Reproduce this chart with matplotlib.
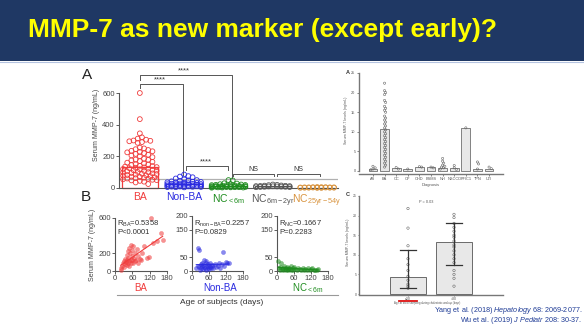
import numpy as np
import matplotlib
matplotlib.use('Agg')
import matplotlib.pyplot as plt
from matplotlib.patches import Rectangle
from matplotlib.lines import Line2D

plt.rcParams['font.family'] = ['Liberation Sans', 'DejaVu Sans']
plt.rcParams['mathtext.fontset'] = 'custom'
plt.rcParams['mathtext.rm'] = 'Liberation Sans'
plt.rcParams['mathtext.it'] = 'Liberation Sans:italic'

# ---------------- data ----------------
groups_a = ["BA", "Non-BA", "NC$_{\\mathrm{<6m}}$", "NC$_{\\mathrm{6m-2yr}}$", "NC$_{\\mathrm{25yr-54y}}$"]
colors_a = ["#f03c3c", "#2b2be0", "#1e8c1e", "#555555", "#d9943f"]
ba_vals = [600, 435, 345, 320, 312, 305, 300, 298, 295, 290, 285, 255, 250, 245, 240, 235,
           232, 228, 225, 220, 215, 210, 205, 200, 195, 185, 180, 178, 175, 170, 165, 160,
           155, 150, 148, 145, 140, 138, 135, 132, 130, 128, 125, 122, 120, 118, 115, 112,
           110, 108, 105, 102, 100, 98, 95, 92, 90, 88, 85, 82, 80, 78, 75, 72, 70, 68, 65,
           62, 60, 58, 55, 52, 50, 48, 45, 40, 35, 25]
nonba_vals = [85, 75, 72, 68, 60, 55, 50, 48, 45, 42, 40, 38, 36, 35, 33, 32, 30, 28, 27, 26,
              25, 24, 23, 22, 21, 20, 19, 18, 17, 16, 15, 14, 13, 12, 11, 10, 9, 8, 7, 6, 5, 4]
nc6m_vals = [50, 48, 30, 28, 25, 24, 22, 20, 19, 18, 17, 16, 15, 14, 13, 12, 12, 11, 10, 10,
             9, 9, 8, 8, 7, 7, 6, 6, 5, 5, 4, 4, 3, 3, 2]
nc2y_vals = [22, 20, 18, 16, 15, 14, 13, 12, 12, 11, 10, 10, 9, 8, 8, 7, 6, 5]
nc25y_vals = [6, 5, 5, 5, 4, 4, 4, 4, 3, 3, 3, 3, 3, 2, 2, 2, 2, 2, 1, 1]
vals_a = [ba_vals, nonba_vals, nc6m_vals, nc2y_vals, nc25y_vals]
cutoff = 57

ba_age = [20, 22, 25, 28, 30, 32, 35, 35, 38, 40, 40, 42, 44, 45, 46, 48, 50, 50, 52, 54, 55,
          56, 58, 60, 60, 62, 64, 65, 68, 70, 72, 75, 78, 80, 85, 90, 95, 100, 110, 118, 125,
          130, 145, 160, 165]
ba_mmp = [10, 30, 60, 90, 50, 110, 80, 140, 100, 70, 180, 120, 95, 230, 150, 60, 110, 260, 200,
          130, 85, 300, 170, 120, 240, 90, 280, 150, 110, 200, 130, 250, 90, 170, 140, 120, 200,
          280, 150, 160, 600, 320, 340, 430, 350]
nb_age = [15, 20, 22, 24, 25, 28, 30, 32, 35, 36, 38, 40, 42, 44, 45, 48, 50, 50, 52, 55, 56,
          58, 60, 62, 65, 68, 70, 72, 75, 80, 85, 90, 95, 100, 105, 110, 112, 120, 125, 130]
nb_mmp = [10, 20, 85, 75, 15, 5, 25, 12, 30, 18, 8, 22, 40, 15, 10, 28, 35, 5, 18, 12, 25, 20,
          8, 15, 30, 12, 22, 18, 10, 25, 15, 20, 30, 12, 25, 70, 20, 32, 30, 28]
nc_age = [5, 8, 10, 12, 15, 18, 20, 22, 25, 28, 30, 32, 35, 38, 40, 42, 45, 48, 50, 55, 58, 60,
          65, 70, 75, 80, 85, 90, 95, 100, 105, 110, 115, 120, 125, 130, 135, 140, 145]
nc_mmp = [35, 10, 5, 15, 28, 8, 3, 12, 20, 6, 10, 2, 15, 8, 4, 12, 6, 18, 3, 10, 5, 14, 8, 4,
          12, 6, 3, 10, 5, 8, 4, 12, 3, 6, 10, 2, 5, 3, 7]
stats_b = [("R$_{\\mathrm{BA}}$=0.5358", "P<0.0001"),
           ("R$_{\\mathrm{non-BA}}$=0.2257", "P=0.0829"),
           ("R$_{\\mathrm{NC}}$=0.1667", "P=0.2283")]

diag_cats = ["AS", "BA", "CC", "CP", "CHD", "BSMS", "NH", "NSCCD", "PFIC1", "TPN", "UTI"]
diag_bar = [0.5, 10.6, 0.7, 0.4, 1.1, 0.9, 0.7, 0.7, 11.0, 0.5, 0.6]
diag_pts = [[1.2, 0.8, 0.5, 0.3],
            [22.4, 20.5, 20, 19.5, 18, 17.5, 16.5, 16, 15.5, 15, 14, 13.5, 13, 12.5, 12, 11.5,
             11, 10.5, 10, 9.5, 9, 8.5, 8, 7.5, 7, 6.5, 6, 5.5, 5, 4.5, 4, 3.5, 3, 2.5, 2, 1.5, 1],
            [0.9, 0.5], [0.5], [1.1, 1.0], [1.0, 0.8],
            [3.2, 2.5, 2.0, 1.5, 1.2, 1.0, 0.8, 0.5], [1.4, 0.8, 0.4], [11.0],
            [2.3, 1.8, 0.5], [1.0, 0.6]]

age_cats = ["\u226430", ">30"]
age_bar = [4.3, 13.3]
age_err_lo = [1.5, 7.5]
age_err_hi = [11.3, 18.0]
age_pts = [[21.8, 16.8, 12.3, 9, 7.5, 6, 4.5, 3.5, 2.5, 2, 1.5],
           [20.3, 19.5, 18, 17, 16, 15, 14.5, 13.5, 12.5, 12, 11, 10, 9, 8, 6, 5, 4, 2]]

# ---------------- figure ----------------
W, H = 584, 326
fig = plt.figure(figsize=(W / 100, H / 100), dpi=100)


def axpx(x0, y0, x1, y1):
    return fig.add_axes([x0 / W, 1 - y1 / H, (x1 - x0) / W, (y1 - y0) / H])


def fx(x):
    return x / W


def fy(y):
    return 1 - y / H


def swarm(vals, xscale, yscale, d, maxw):
    vals = np.asarray(vals, dtype=float)
    order = np.argsort(-vals, kind='stable')
    placed = []
    offs = np.zeros(len(vals))
    cands = [0.0]
    k = 1
    while k * d / 2 <= maxw:
        cands += [k * d / 2, -k * d / 2]
        k += 1
    for i in order:
        y = vals[i] * yscale
        best, bestov = 0.0, None
        for c in cands:
            ov = sum(max(0.0, d - np.hypot(c - px, y - py)) for px, py in placed)
            if ov == 0:
                best, bestov = c, 0
                break
            if bestov is None or ov < bestov:
                best, bestov = c, ov
        placed.append((best, y))
        offs[i] = best / xscale
    return offs


# header band
fig.patches.append(Rectangle((0, fy(61)), 1, 61 / H, transform=fig.transFigure,
                             facecolor='#1f3864', edgecolor='none', zorder=0))
fig.add_artist(Line2D([0, 1], [fy(62), fy(62)], color='#b4c3e0', lw=0.8))
fig.text(fx(262), fy(37), 'MMP-7 as new marker (except early)?', fontsize=19,
         weight='bold', color='#ffff00', ha='center', va='baseline')

# ---------------- Panel A ----------------
axA = axpx(119, 60, 338, 190)
ypp = 95 / 600.0
xpp = 44.3
axA.set_xlim(-0.47, 4.47)
axA.set_ylim(-2 / ypp, 128 / ypp)
for i, (v, c) in enumerate(zip(vals_a, colors_a)):
    offs = swarm(v, xpp, ypp, 4.2, 17)
    axA.scatter(i + offs, v, s=12, facecolors='none', edgecolors=c, linewidths=0.6, zorder=3,
                clip_on=False)
    axA.bar(i, np.median(v), width=0.82, facecolor='none', edgecolor=c, lw=0.9, zorder=2)
axA.axhline(cutoff, color='#b0b0b0', lw=0.9, zorder=1)
for s in ['top', 'right']:
    axA.spines[s].set_visible(False)
axA.spines['left'].set_bounds(0, 600)
axA.spines['bottom'].set_position(('data', 0))
for s in ['left', 'bottom']:
    axA.spines[s].set_color('#555555')
    axA.spines[s].set_linewidth(0.8)
axA.set_yticks([0, 200, 400, 600])
axA.tick_params(axis='y', labelsize=5.5, length=2, width=0.6, pad=1, colors='#444444')
axA.set_xticks(range(5))
axA.set_xticklabels(groups_a, fontsize=7.5)
axA.tick_params(axis='x', length=0, pad=3)
for lab, c in zip(axA.get_xticklabels(), colors_a):
    lab.set_color(c)
axA.set_ylabel('Serum MMP-7 (ng/mL)', fontsize=5, color='#444444', labelpad=2)
axA.patch.set_alpha(0)

bk = dict(color='#555555', lw=0.7, clip_on=False)
axA.plot([0, 0, 2.08, 2.08], [680, 714, 714, 63], **bk)
axA.text(1.0, 720, '****', ha='center', va='bottom', fontsize=5.5, color='#333333')
axA.plot([0, 0, 0.97, 0.97], [630, 657, 657, 82], **bk)
axA.text(0.45, 663, '****', ha='center', va='bottom', fontsize=5.5, color='#333333')
axA.plot([1.05, 1.05, 1.98, 1.98], [114, 139, 139, 114], **bk)
axA.text(1.5, 145, '****', ha='center', va='bottom', fontsize=5.5, color='#333333')
axA.plot([2.1, 2.1, 3.02, 3.02], [76, 88, 88, 76], **bk)
axA.text(2.56, 95, 'NS', ha='center', va='bottom', fontsize=5, color='#333333')
axA.plot([3.09, 3.09, 4.06, 4.06], [76, 88, 88, 76], **bk)
axA.text(3.57, 95, 'NS', ha='center', va='bottom', fontsize=5, color='#333333')

fig.text(fx(87), fy(75), 'A', fontsize=11, ha='center', va='center', color='#222222')
fig.text(fx(86), fy(197), 'B', fontsize=11, ha='center', va='center', color='#222222')

# ---------------- Panel B ----------------
b_specs = [
    (115, 167, 600, 53, [0, 200, 600], ba_age, ba_mmp, colors_a[0], 'BA', 141),
    (192, 243, 200, 55, [0, 50, 150, 200], nb_age, nb_mmp, colors_a[1], 'Non-BA', 220),
    (277, 328, 200, 55, [0, 50, 150, 200], nc_age, nc_mmp, colors_a[2], 'NC$_{\\mathrm{<6m}}$', 308),
]
for k, (x0, x1, ymax, hpx, yt, ag, mm, c, lab, lx) in enumerate(b_specs):
    ax = axpx(x0, 212, x1, 273)
    upp = ymax / hpx
    ax.set_xlim(0, 180)
    ax.set_ylim(-2 * upp, (271 - 212) * upp)
    ax.scatter(ag, mm, s=9, color=c, alpha=0.55, linewidths=0.3, zorder=3, clip_on=False)
    p = np.polyfit(ag, mm, 1)
    xx = np.array([min(ag), max(ag)])
    ax.plot(xx, np.polyval(p, xx), color=c, lw=0.8, zorder=4)
    for s in ['top', 'right']:
        ax.spines[s].set_visible(False)
    ax.spines['left'].set_bounds(0, ymax)
    ax.spines['bottom'].set_position(('data', 0))
    ax.spines['bottom'].set_bounds(0, 180)
    for s in ['left', 'bottom']:
        ax.spines[s].set_color('#555555')
        ax.spines[s].set_linewidth(0.8)
    ax.set_yticks(yt)
    ax.set_xticks([0, 60, 120, 180])
    ax.tick_params(labelsize=5.5, length=2, width=0.6, pad=1, colors='#444444')
    ax.patch.set_alpha(0)
    fig.text(fx(x0 + 2), fy(224), stats_b[k][0], fontsize=5.5, color='#333333', va='center')
    fig.text(fx(x0 + 2), fy(232), stats_b[k][1], fontsize=5.5, color='#333333', va='center')
    fig.text(fx(lx), fy(288), lab, fontsize=7, color=c, ha='center', va='center')

fig.text(fx(92), fy(245), 'Serum MMP-7 (ng/mL)', rotation=90, fontsize=5, color='#444444',
         ha='center', va='center')
fig.add_artist(Line2D([fx(117), fx(338)], [fy(295), fy(295)], color='#999999', lw=0.8))
fig.text(fx(222), fy(303), 'Age of subjects (days)', fontsize=6, color='#333333',
         ha='center', va='center')

# ---------------- Right panel A ----------------
axR = axpx(359, 66, 503, 174)
rpp = 98 / 25.0
axR.set_ylim(-3 / rpp, 105 / rpp)
axR.set_xlim(-1.2, 11.2)
axR.bar(range(len(diag_cats)), diag_bar, width=0.75, facecolor='#e8e8e8', edgecolor='#555555',
        lw=0.5, zorder=2)
for i, pts in enumerate(diag_pts):
    offs = swarm(pts, 11.6, rpp, 2.2, 3.0)
    axR.scatter(i + offs, pts, s=2.5, facecolors='none', edgecolors='#666666', linewidths=0.4,
                zorder=3)
for s in ['top', 'right']:
    axR.spines[s].set_visible(False)
for s in ['left', 'bottom']:
    axR.spines[s].set_color('#777777')
    axR.spines[s].set_linewidth(1.0)
axR.spines['left'].set_bounds(0, 25)
axR.set_yticks([0, 5, 10, 15, 20, 25])
axR.set_xticks(range(len(diag_cats)))
axR.set_xticklabels(diag_cats)
axR.tick_params(labelsize=2.8, length=1.5, width=0.5, pad=1, colors='#555555')
axR.set_xlabel('Diagnosis', fontsize=3, color='#555555', labelpad=1)
axR.set_ylabel('Serum MMP-7 levels (ng/mL)', fontsize=2.6, color='#555555', labelpad=2)
axR.patch.set_alpha(0)
fig.text(fx(348), fy(73), 'A', fontsize=4, weight='bold', ha='center', va='center',
         color='#333333')

# ---------------- Right panel C ----------------
axC = axpx(359, 190, 503, 295)
cpp = 99 / 25.0
axC.set_ylim(-1 / cpp, 105 / cpp)
axC.set_xlim(-1.065, 2.065)
axC.bar(range(2), age_bar, width=0.8, facecolor='#e8e8e8', edgecolor='#555555', lw=0.6,
        zorder=2)
for i, pts in enumerate(age_pts):
    axC.scatter(np.full(len(pts), i), pts, s=3, facecolors='none', edgecolors='#666666',
                linewidths=0.4, zorder=3)
    axC.plot([i, i], [age_err_lo[i], age_err_hi[i]], color='#333333', lw=0.9, zorder=4)
    for yv in (age_err_lo[i], age_err_hi[i]):
        axC.plot([i - 0.17, i + 0.17], [yv, yv], color='#333333', lw=0.9, zorder=4)
for s in ['top', 'right']:
    axC.spines[s].set_visible(False)
for s in ['left', 'bottom']:
    axC.spines[s].set_color('#777777')
    axC.spines[s].set_linewidth(1.0)
axC.spines['left'].set_bounds(0, 25)
axC.set_yticks([0, 5, 10, 15, 20, 25])
axC.set_xticks(range(2))
axC.set_xticklabels(age_cats)
axC.tick_params(labelsize=2.5, length=1, width=0.5, pad=0.5, colors='#555555')
axC.set_ylabel('Serum MMP-7 levels (ng/mL)', fontsize=2.6, color='#555555', labelpad=2)
axC.patch.set_alpha(0)
axC.text(0.4, 23.5, 'P = 0.03', fontsize=2.8, color='#555555', ha='center', va='center')
fig.text(fx(348), fy(194), 'C', fontsize=4, weight='bold', ha='center', va='center',
         color='#333333')
fig.add_artist(Line2D([fx(399), fx(417)], [fy(300.5), fy(300.5)], color='#e01010', lw=1.3))
fig.text(fx(427), fy(303), 'Age at stool sampling during cholestatic workup (days)',
         fontsize=2.0, color='#555555', ha='center', va='center')

# citations
fig.text(fx(582), fy(310.5), 'Yang et al. (2018) $\\mathit{Hepatology}$ 68: 2069-2077.',
         fontsize=5.2, color='#1f3c96', ha='right', va='center')
fig.text(fx(582), fy(320), 'Wu et al. (2019) $\\mathit{J\\ Pediatr}$ 208: 30-37.',
         fontsize=5.2, color='#1f3c96', ha='right', va='center')

fig.savefig('out.png', dpi=100)
